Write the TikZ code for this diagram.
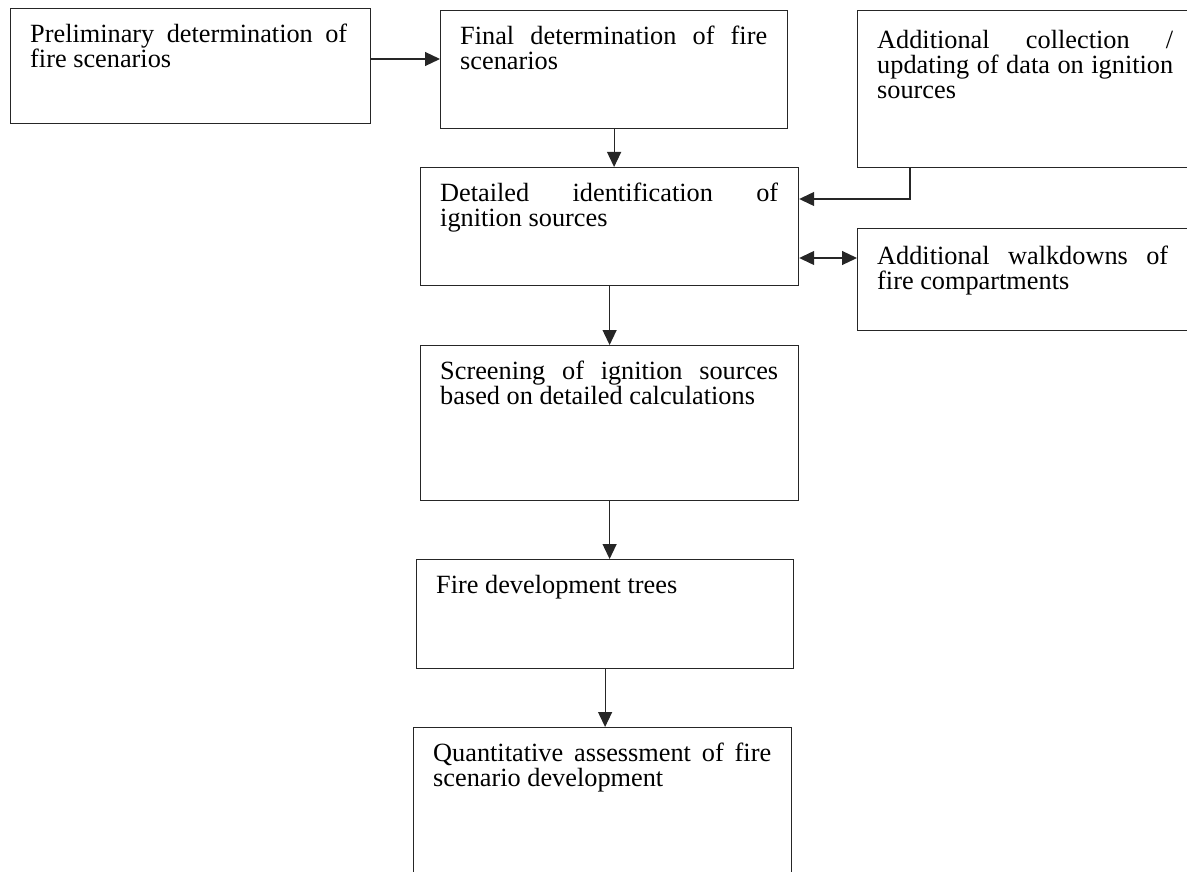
\documentclass[tikz,border=0pt]{standalone}
\usepackage{fontspec}
\setmainfont{Liberation Serif}
\usetikzlibrary{arrows.meta}
\newcommand{\jl}[2]{\makebox[#1][s]{#2}}
\begin{document}
\begin{tikzpicture}[x=1pt,y=-1pt,
  box/.style={draw=black!85, line width=1.2pt, inner sep=0pt, anchor=north west},
  txt/.style={inner sep=0pt, anchor=north west, align=left,
    font=\fontsize{26.3}{25}\selectfont},
  arr/.style={draw=black!85, line width=1.2pt, -{Triangle[length=15pt,width=14pt]}},
  darr/.style={draw=black!85, line width=1.2pt, {Triangle[length=15pt,width=14pt]}-{Triangle[length=15pt,width=14pt]}}]
\useasboundingbox (0,0) rectangle (1187,872);
% boxes
\node[box, minimum width=360pt, minimum height=115pt] (b1) at (10,8) {};
\node[box, minimum width=347pt, minimum height=118pt] (b2) at (440,10) {};
\node[box, minimum width=350pt, minimum height=157pt] (b3) at (857,10) {};
\node[box, minimum width=378pt, minimum height=118pt] (b4) at (420,167) {};
\node[box, minimum width=350pt, minimum height=102pt] (b5) at (857,228) {};
\node[box, minimum width=378pt, minimum height=155pt] (b6) at (420,345) {};
\node[box, minimum width=377pt, minimum height=109pt] (b7) at (416,559) {};
\node[box, minimum width=378pt, minimum height=160pt] (b8) at (413,727) {};
% texts
\node[txt] (t1) at (30,24) {\jl{317pt}{Preliminary determination of}\\fire scenarios};
\node[txt] (t2) at (460,26) {\jl{307pt}{Final determination of fire}\\scenarios};
\node[txt] (t3) at (877,30) {\jl{296pt}{Additional collection /}\\\jl{296pt}{updating of data on ignition}\\sources};
\node[txt] (t4) at (440,183) {\jl{338pt}{Detailed identification of}\\ignition sources};
\node[txt] (t5) at (877,246) {\jl{291pt}{Additional walkdowns of}\\fire compartments};
\node[txt] (t6) at (440,361) {\jl{338pt}{Screening of ignition sources}\\based on detailed calculations};
\node[txt] (t7) at (436,575) {Fire development trees};
\node[txt] (t8) at (433,743) {\jl{338pt}{Quantitative assessment of fire}\\scenario development};
% connectors
\coordinate (a12) at (370,59);
\draw[arr] (a12) -- (a12 -| b2.west);
\draw[arr] (b2.south) -- (b2.south |- b4.north);
\draw[arr] ([xshift=53pt]b3.south west) |- ([yshift=-32pt]b4.north east);
\draw[darr] ([yshift=-91pt]b4.north east) -- ([yshift=-91pt]b4.north east -| b5.west);
\draw[arr] (b4.south) -- (b4.south |- b6.north);
\draw[arr] (b6.south) -- (b6.south |- b7.north);
\draw[arr] (b7.south) -- (b7.south |- b8.north);
\end{tikzpicture}
\end{document}
